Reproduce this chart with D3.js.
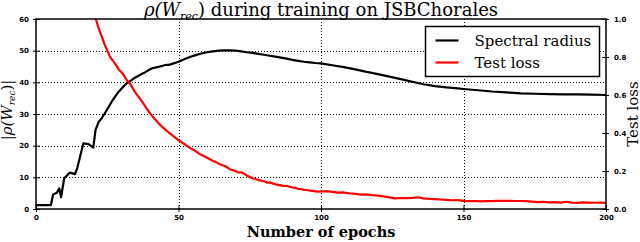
<!DOCTYPE html>
<html>
<head>
<meta charset="utf-8">
<script src="https://cdn.jsdelivr.net/npm/d3@7"></script>
<style>
  html, body { margin: 0; padding: 0; background: #fff; }
</style>
</head>
<body>
<script>
// spectral radius |rho(W_rec)| per epoch
const radiusEpochs = [0, 5.2, 6, 7.3, 8.2, 8.8, 9.9, 11.9, 13.7, 14.5, 16.6, 18.4, 20.1, 20.9, 22, 23, 24, 25, 26, 27, 28, 29, 30,
  31, 32, 33, 34, 35, 36, 37, 38, 39, 40, 41, 42, 43, 44, 45, 46, 47, 48, 49, 50, 52, 54, 56, 58, 60, 62, 64, 66, 68, 70,
  72, 74, 76, 78, 80, 82, 84, 86, 88, 90, 92, 94, 96, 98, 100, 104, 108, 112, 116, 120, 124, 128, 132, 136, 140, 144,
  148, 150, 155, 160, 165, 170, 175, 180, 185, 190, 195, 200];
const radiusValues = [1.2, 1.2, 4.6, 5.1, 6.5, 3.7, 9.7, 11.5, 11, 13, 20.7, 20.5, 19.4, 25, 27.5, 28.6, 30, 31.5, 33, 34.5, 35.8, 37, 38,
  39, 39.8, 40.4, 41, 41.6, 42.1, 42.6, 43, 43.6, 44.1, 44.5, 44.7, 44.9, 45.1, 45.4, 45.5, 45.6, 45.9, 46.2, 46.5, 47.3, 48, 48.6, 49.1, 49.5, 49.8, 50, 50.1, 50.1, 50,
  49.8, 49.5, 49.3, 49, 48.7, 48.4, 48.1, 47.8, 47.5, 47.1, 46.8, 46.5, 46.3, 46.1, 46, 45.4, 44.8, 44.1, 43.3, 42.6, 41.8, 41, 40.2, 39.4, 38.8, 38.4,
  38.1, 37.9, 37.5, 37.1, 36.8, 36.5, 36.4, 36.3, 36.2, 36.2, 36.1, 36];

// test loss per epoch
const lossEpochs = [0, 5, 10, 15, 18, 20, 21, 22, 23, 24, 25, 26, 27, 28, 29, 30, 31, 32, 33, 34, 35, 36, 37, 38, 39, 40,
  41, 42, 43, 44, 45, 46, 47, 48, 49, 50, 51, 52, 53, 54, 55, 56, 57, 58, 59, 60, 61, 62, 63, 64, 65, 66, 67, 68, 69, 70,
  71, 72, 73, 74, 75, 76, 77, 78, 79, 80, 81, 82, 83, 84, 85, 86, 87, 88, 89, 90, 91, 92, 93, 94, 95, 96, 97, 98, 99, 100,
  102, 104, 106, 108, 110, 112, 114, 116, 118, 120, 122, 124, 126, 128, 130, 132, 134, 136, 138, 140, 142, 144, 146, 148, 150,
  152, 154, 156, 158, 160, 162, 164, 166, 168, 170, 172, 174, 176, 178, 180, 182, 184, 186, 188, 190, 192, 194, 196, 198, 200];
const lossValues = [3.0, 2.2, 1.7, 1.35, 1.15, 1.04, 1.0, 0.95, 0.91, 0.87, 0.835, 0.80, 0.78, 0.76, 0.735, 0.72, 0.70, 0.675, 0.66, 0.635, 0.61, 0.59, 0.57, 0.548, 0.525, 0.505,
  0.485, 0.468, 0.452, 0.437, 0.423, 0.41, 0.398, 0.386, 0.374, 0.362, 0.352, 0.342, 0.332, 0.322, 0.313, 0.305, 0.294, 0.285, 0.278, 0.27, 0.262, 0.254, 0.248, 0.24, 0.233, 0.228, 0.221, 0.209, 0.205, 0.20,
  0.192, 0.193, 0.186, 0.176, 0.168, 0.162, 0.158, 0.153, 0.149, 0.146, 0.139, 0.14, 0.135, 0.13, 0.127, 0.124, 0.121, 0.122, 0.117, 0.113, 0.111, 0.106, 0.105, 0.101, 0.10, 0.097, 0.095, 0.093, 0.091, 0.092,
  0.094, 0.09, 0.086, 0.087, 0.082, 0.08, 0.076, 0.077, 0.073, 0.07, 0.066, 0.061, 0.056, 0.058, 0.057, 0.059, 0.062, 0.056, 0.053, 0.052, 0.05, 0.048, 0.046, 0.047, 0.043,
  0.041, 0.042, 0.04, 0.042, 0.041, 0.043, 0.043, 0.043, 0.042, 0.042, 0.041, 0.039, 0.036, 0.038, 0.035, 0.036, 0.034, 0.038, 0.034, 0.032, 0.035, 0.034, 0.033, 0.034, 0.032];

const xTicks = [0, 50, 100, 150, 200];
const radiusTicks = [0, 10, 20, 30, 40, 50, 60];
const lossTicks = [0.0, 0.2, 0.4, 0.6, 0.8, 1.0];

const width = 640;
const height = 242;
const margin = { top: 19, right: 34, bottom: 33, left: 36 };
const innerWidth = width - margin.left - margin.right;
const innerHeight = height - margin.top - margin.bottom;

const serif = "'DejaVu Serif', 'Liberation Serif', serif";
const tickFont = "'DejaVu Sans', sans-serif";

const svg = d3
  .select("body")
  .append("svg")
  .attr("width", width)
  .attr("height", height)
  .attr("viewBox", `0 0 ${width} ${height}`);

svg.append("rect").attr("width", width).attr("height", height).attr("fill", "#fff");

const x = d3.scaleLinear().domain([0, 200]).range([0, innerWidth]);
const yLeft = d3.scaleLinear().domain([0, 60]).range([innerHeight, 0]);
const yRight = d3.scaleLinear().domain([0, 1]).range([innerHeight, 0]);

const root = svg.append("g").attr("transform", `translate(${margin.left}, ${margin.top})`);

svg
  .append("defs")
  .append("clipPath")
  .attr("id", "plot-clip")
  .append("rect")
  .attr("width", innerWidth)
  .attr("height", innerHeight);

// dotted grid
const grid = root.append("g").attr("stroke", "#000").attr("stroke-width", 1).attr("stroke-dasharray", "1,2");
grid
  .selectAll("line.h")
  .data(radiusTicks.slice(1, -1))
  .join("line")
  .attr("class", "h")
  .attr("x1", 0)
  .attr("x2", innerWidth)
  .attr("y1", (d) => Math.round(yLeft(d)) + 0.5)
  .attr("y2", (d) => Math.round(yLeft(d)) + 0.5);
grid
  .selectAll("line.v")
  .data(xTicks.slice(1, -1))
  .join("line")
  .attr("class", "v")
  .attr("y1", 0)
  .attr("y2", innerHeight)
  .attr("x1", (d) => Math.round(x(d)) + 0.5)
  .attr("x2", (d) => Math.round(x(d)) + 0.5);

// curves
const plot = root.append("g").attr("clip-path", "url(#plot-clip)");

const radiusLine = d3
  .line()
  .x((d, i) => x(radiusEpochs[i]))
  .y((d) => yLeft(d));
plot
  .append("path")
  .attr("d", radiusLine(radiusValues))
  .attr("fill", "none")
  .attr("stroke", "#000")
  .attr("stroke-width", 2.2)
  .attr("stroke-linejoin", "round");

const lossLine = d3
  .line()
  .x((d, i) => x(lossEpochs[i]))
  .y((d) => yRight(d));
plot
  .append("path")
  .attr("d", lossLine(lossValues))
  .attr("fill", "none")
  .attr("stroke", "#f00")
  .attr("stroke-width", 2.2)
  .attr("stroke-linejoin", "round");

// axes
function styleAxis(axis, inner, outer, dir) {
  axis.select(".domain").remove();
  axis.selectAll(".tick line").attr("stroke", "#000").attr("stroke-width", 1);
  axis
    .selectAll(".tick text")
    .attr("fill", "#000")
    .attr("font-family", tickFont)
    .attr("font-size", 7)
    .attr("font-weight", 700);
  if (dir === "left") axis.selectAll(".tick line").attr("x1", inner).attr("x2", -outer);
  if (dir === "right") axis.selectAll(".tick line").attr("x1", -inner).attr("x2", outer);
  if (dir === "bottom") axis.selectAll(".tick line").attr("y1", -inner).attr("y2", outer);
}

root
  .append("g")
  .attr("transform", `translate(0, ${innerHeight})`)
  .call(d3.axisBottom(x).tickValues(xTicks).tickFormat(d3.format("d")).tickSize(3).tickPadding(3))
  .call((a) => styleAxis(a, 4, 3, "bottom"));

root
  .append("g")
  .call(d3.axisLeft(yLeft).tickValues(radiusTicks).tickFormat(d3.format("d")).tickSize(3).tickPadding(4))
  .call((a) => styleAxis(a, 4, 3, "left"));

root
  .append("g")
  .attr("transform", `translate(${innerWidth}, 0)`)
  .call(d3.axisRight(yRight).tickValues(lossTicks).tickFormat(d3.format(".1f")).tickSize(3).tickPadding(5))
  .call((a) => styleAxis(a, 4, 3, "right"));

// frame
root
  .append("rect")
  .attr("width", innerWidth)
  .attr("height", innerHeight)
  .attr("fill", "none")
  .attr("stroke", "#000")
  .attr("stroke-width", 1.5);

// legend
const legend = root.append("g").attr("transform", `translate(${425.5 - margin.left}, ${26.5 - margin.top})`);
legend
  .append("rect")
  .attr("width", 174)
  .attr("height", 50)
  .attr("fill", "#fff")
  .attr("stroke", "#000")
  .attr("stroke-width", 1.5);
const legendItems = [
  { label: "Spectral radius", color: "#000" },
  { label: "Test loss", color: "#f00" },
];
legendItems.forEach((item, i) => {
  const row = legend.append("g").attr("transform", `translate(0, ${14 + i * 22})`);
  row.append("line").attr("x1", 10).attr("x2", 33).attr("stroke", item.color).attr("stroke-width", 2.2);
  row
    .append("text")
    .attr("x", 49)
    .attr("y", 5)
    .attr("font-family", serif)
    .attr("font-size", 15)
    .attr("fill", "#000")
    .text(item.label);
});

// title
const title = svg
  .append("text")
  .attr("x", margin.left + innerWidth / 2)
  .attr("y", 16)
  .attr("text-anchor", "middle")
  .attr("font-family", serif)
  .attr("font-size", 18)
  .attr("fill", "#000");
title.append("tspan").attr("font-style", "italic").text("ρ(W");
title.append("tspan").attr("font-style", "italic").attr("font-size", 11).attr("dy", 4).text("rec");
title.append("tspan").attr("dy", -4).text(") during training on JSBChorales");

// x label
svg
  .append("text")
  .attr("x", margin.left + innerWidth / 2)
  .attr("y", 237)
  .attr("text-anchor", "middle")
  .attr("font-family", serif)
  .attr("font-size", 14.5)
  .attr("font-weight", 700)
  .attr("fill", "#000")
  .text("Number of epochs");

// left y label
const yl = svg
  .append("text")
  .attr("transform", `translate(12, ${margin.top + innerHeight / 2 - 4}) rotate(-90)`)
  .attr("text-anchor", "middle")
  .attr("font-family", serif)
  .attr("font-size", 15)
  .attr("fill", "#000");
yl.append("tspan").attr("font-style", "italic").text("|ρ(W");
yl.append("tspan").attr("font-style", "italic").attr("font-size", 9).attr("dy", 3).text("rec");
yl.append("tspan").attr("dy", -3).text(")|");

// right y label
svg
  .append("text")
  .attr("transform", `translate(638, ${margin.top + innerHeight / 2}) rotate(-90)`)
  .attr("text-anchor", "middle")
  .attr("font-family", serif)
  .attr("font-size", 15)
  .attr("fill", "#000")
  .text("Test loss");
</script>
</body>
</html>
